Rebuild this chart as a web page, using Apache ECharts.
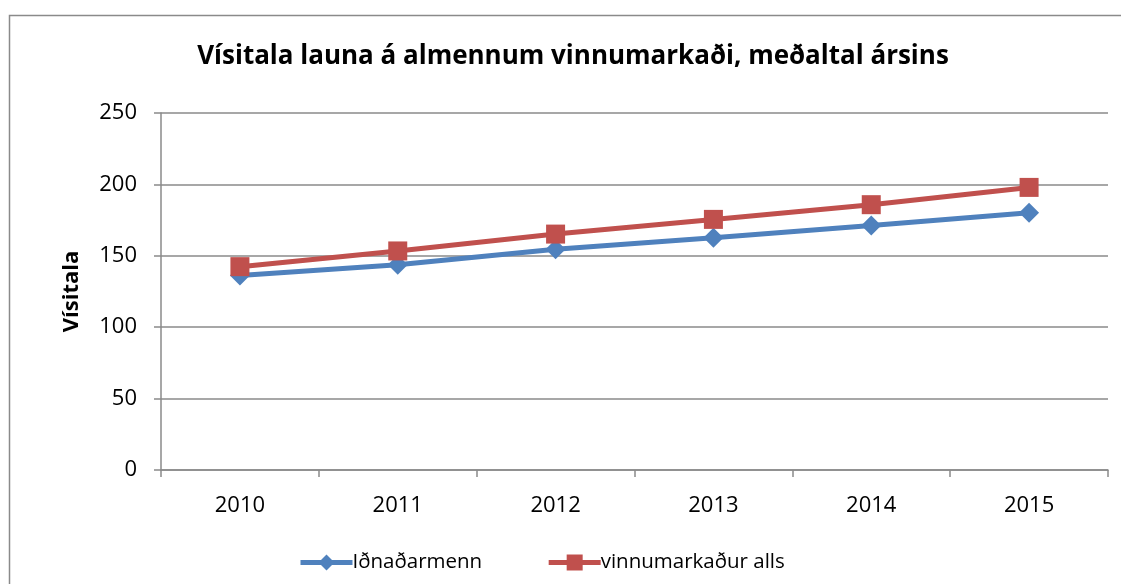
<!DOCTYPE html>
<html>
<head>
<meta charset="utf-8">
<script src="https://cdn.jsdelivr.net/npm/echarts@6/dist/echarts.min.js"></script>
<style>
  html, body { margin: 0; padding: 0; background: #fff; }
  #charts { width: 1121px; height: 584px; }
</style>
</head>
<body>
<div id="charts"></div>
<script>
var years = ['2010', '2011', '2012', '2013', '2014', '2015'];
var idnadarmenn = [136.2, 143.8, 154.6, 162.6, 171.2, 180.1];
var vinnumarkadur = [142.4, 153.4, 165.2, 175.5, 185.8, 197.9];
var yTicks = [0, 50, 100, 150, 200, 250];

var chartDom = document.getElementById('charts');
var myChart = echarts.init(chartDom);
var font = '"Open Sans", "Liberation Sans", sans-serif';

var option = {
  backgroundColor: '#fff',
  animation: false,
  graphic: [{
    type: 'rect',
    shape: { x: 9.5, y: 15.5, width: 1200, height: 700 },
    style: { fill: 'none', stroke: '#8a8a8a', lineWidth: 1.5 },
    silent: true
  }],
  title: {
    text: 'Vísitala launa á almennum vinnumarkaði, meðaltal ársins',
    left: 568,
    top: 39,
    textAlign: 'center',
    textStyle: { fontFamily: font, fontWeight: 'bold', fontSize: 26, color: '#000' }
  },
  legend: {
    bottom: 6,
    left: 293,
    itemGap: 64,
    itemWidth: 52,
    itemHeight: 20,
    textStyle: { fontFamily: font, fontSize: 20.5, color: '#000', padding: [0, 0, 0, -5] },
    data: [
      { name: 'Iðnaðarmenn', lineStyle: { width: 5 } },
      { name: 'vinnumarkaður alls', lineStyle: { width: 5 } }
    ]
  },
  grid: { left: 161, right: 13, top: 113, bottom: 114 },
  xAxis: {
    type: 'category',
    data: years,
    boundaryGap: true,
    axisLine: { lineStyle: { color: '#8a8a8a', width: 1.5 } },
    axisTick: { show: true, length: 7, lineStyle: { color: '#8a8a8a', width: 1.5 } },
    axisLabel: { fontFamily: font, fontSize: 22, color: '#000', margin: 25 }
  },
  yAxis: {
    type: 'value',
    min: yTicks[0],
    max: yTicks[yTicks.length - 1],
    interval: 50,
    name: 'Vísitala',
    nameLocation: 'middle',
    nameGap: 78,
    nameRotate: 90,
    nameTextStyle: { fontFamily: font, fontWeight: 'bold', fontSize: 22, color: '#000' },
    axisLine: { show: true, lineStyle: { color: '#8a8a8a', width: 1.5 } },
    axisTick: { show: true, length: 7, lineStyle: { color: '#8a8a8a', width: 1.5 } },
    axisLabel: { fontFamily: font, fontSize: 22, color: '#000', margin: 24 },
    splitLine: { lineStyle: { color: '#8a8a8a', width: 1.5 } }
  },
  series: [
    {
      name: 'Iðnaðarmenn',
      type: 'line',
      data: idnadarmenn,
      symbol: 'diamond',
      symbolSize: [20, 20],
      itemStyle: { color: '#4F81BD' },
      lineStyle: { color: '#4F81BD', width: 5 }
    },
    {
      name: 'vinnumarkaður alls',
      type: 'line',
      data: vinnumarkadur,
      symbol: 'rect',
      symbolSize: 19,
      itemStyle: { color: '#C0504D' },
      lineStyle: { color: '#C0504D', width: 5 }
    }
  ]
};

option && myChart.setOption(option);
</script>
</body>
</html>
